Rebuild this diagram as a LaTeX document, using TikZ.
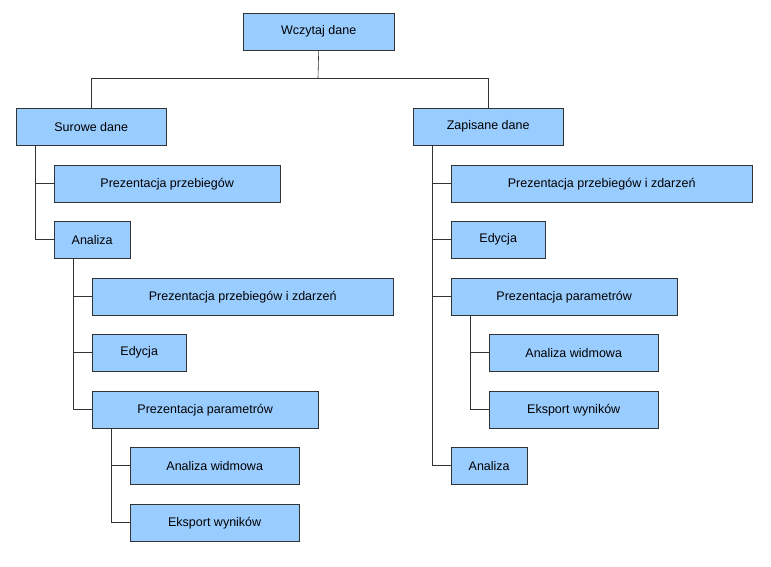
\documentclass[tikz,border=0pt]{standalone}
\usepackage{fontspec}
\setmainfont{Liberation Sans}
\definecolor{boxblue}{HTML}{99CCFF}
\begin{document}
\begin{tikzpicture}[x=1pt,y=-1pt,
  box/.style={draw=black!80, fill=boxblue, anchor=north west, minimum height=37pt,
    inner xsep=0pt, font=\fontsize{12.5}{14}\selectfont},
  link/.style={draw=black!80, line width=0.6pt}]
\useasboundingbox (0,0) rectangle (771,566);
% top level
\node[box, minimum width=151pt] (wcz) at (243,13) {Wczytaj dane};
\node[box, minimum width=150pt] (sur) at (16,108) {Surowe dane};
\node[box, minimum width=150pt] (zap) at (413,108) {Zapisane dane};
% left branch
\node[box, minimum width=226pt] (lprz) at (54,165) {Prezentacja przebiegów};
\node[box, minimum width=76pt] (lana) at (54,221) {Analiza};
\node[box, minimum width=301pt] (lpz) at (92,278) {Prezentacja przebiegów i zdarzeń};
\node[box, minimum width=94pt] (ledy) at (92,334) {Edycja};
\node[box, minimum width=226pt] (lpar) at (92,391) {Prezentacja parametrów};
\node[box, minimum width=169pt] (lwid) at (130,447) {Analiza widmowa};
\node[box, minimum width=169pt] (leks) at (130,504) {Eksport wyników};
% right branch
\node[box, minimum width=301pt] (rpz) at (451,165) {Prezentacja przebiegów i zdarzeń};
\node[box, minimum width=94pt] (redy) at (451,221) {Edycja};
\node[box, minimum width=226pt] (rpar) at (451,278) {Prezentacja parametrów};
\node[box, minimum width=169pt] (rwid) at (489,334) {Analiza widmowa};
\node[box, minimum width=169pt] (reks) at (489,391) {Eksport wyników};
\node[box, minimum width=76pt] (rana) at (451,447) {Analiza};
% connectors
\coordinate (split) at (318,78);
\draw[link] (wcz.south) -- (split);
\draw[link] (split) -| (sur.north);
\draw[link] (split) -| (zap.north);
\foreach \up/\kid in {sur/lprz, sur/lana, lana/lpz, lana/ledy, lana/lpar,
    lpar/lwid, lpar/leks, zap/rpz, zap/redy, zap/rpar, zap/rana,
    rpar/rwid, rpar/reks}
  \draw[link] ([xshift=19pt]\up.south west) |- (\kid.west);
\end{tikzpicture}
\end{document}
